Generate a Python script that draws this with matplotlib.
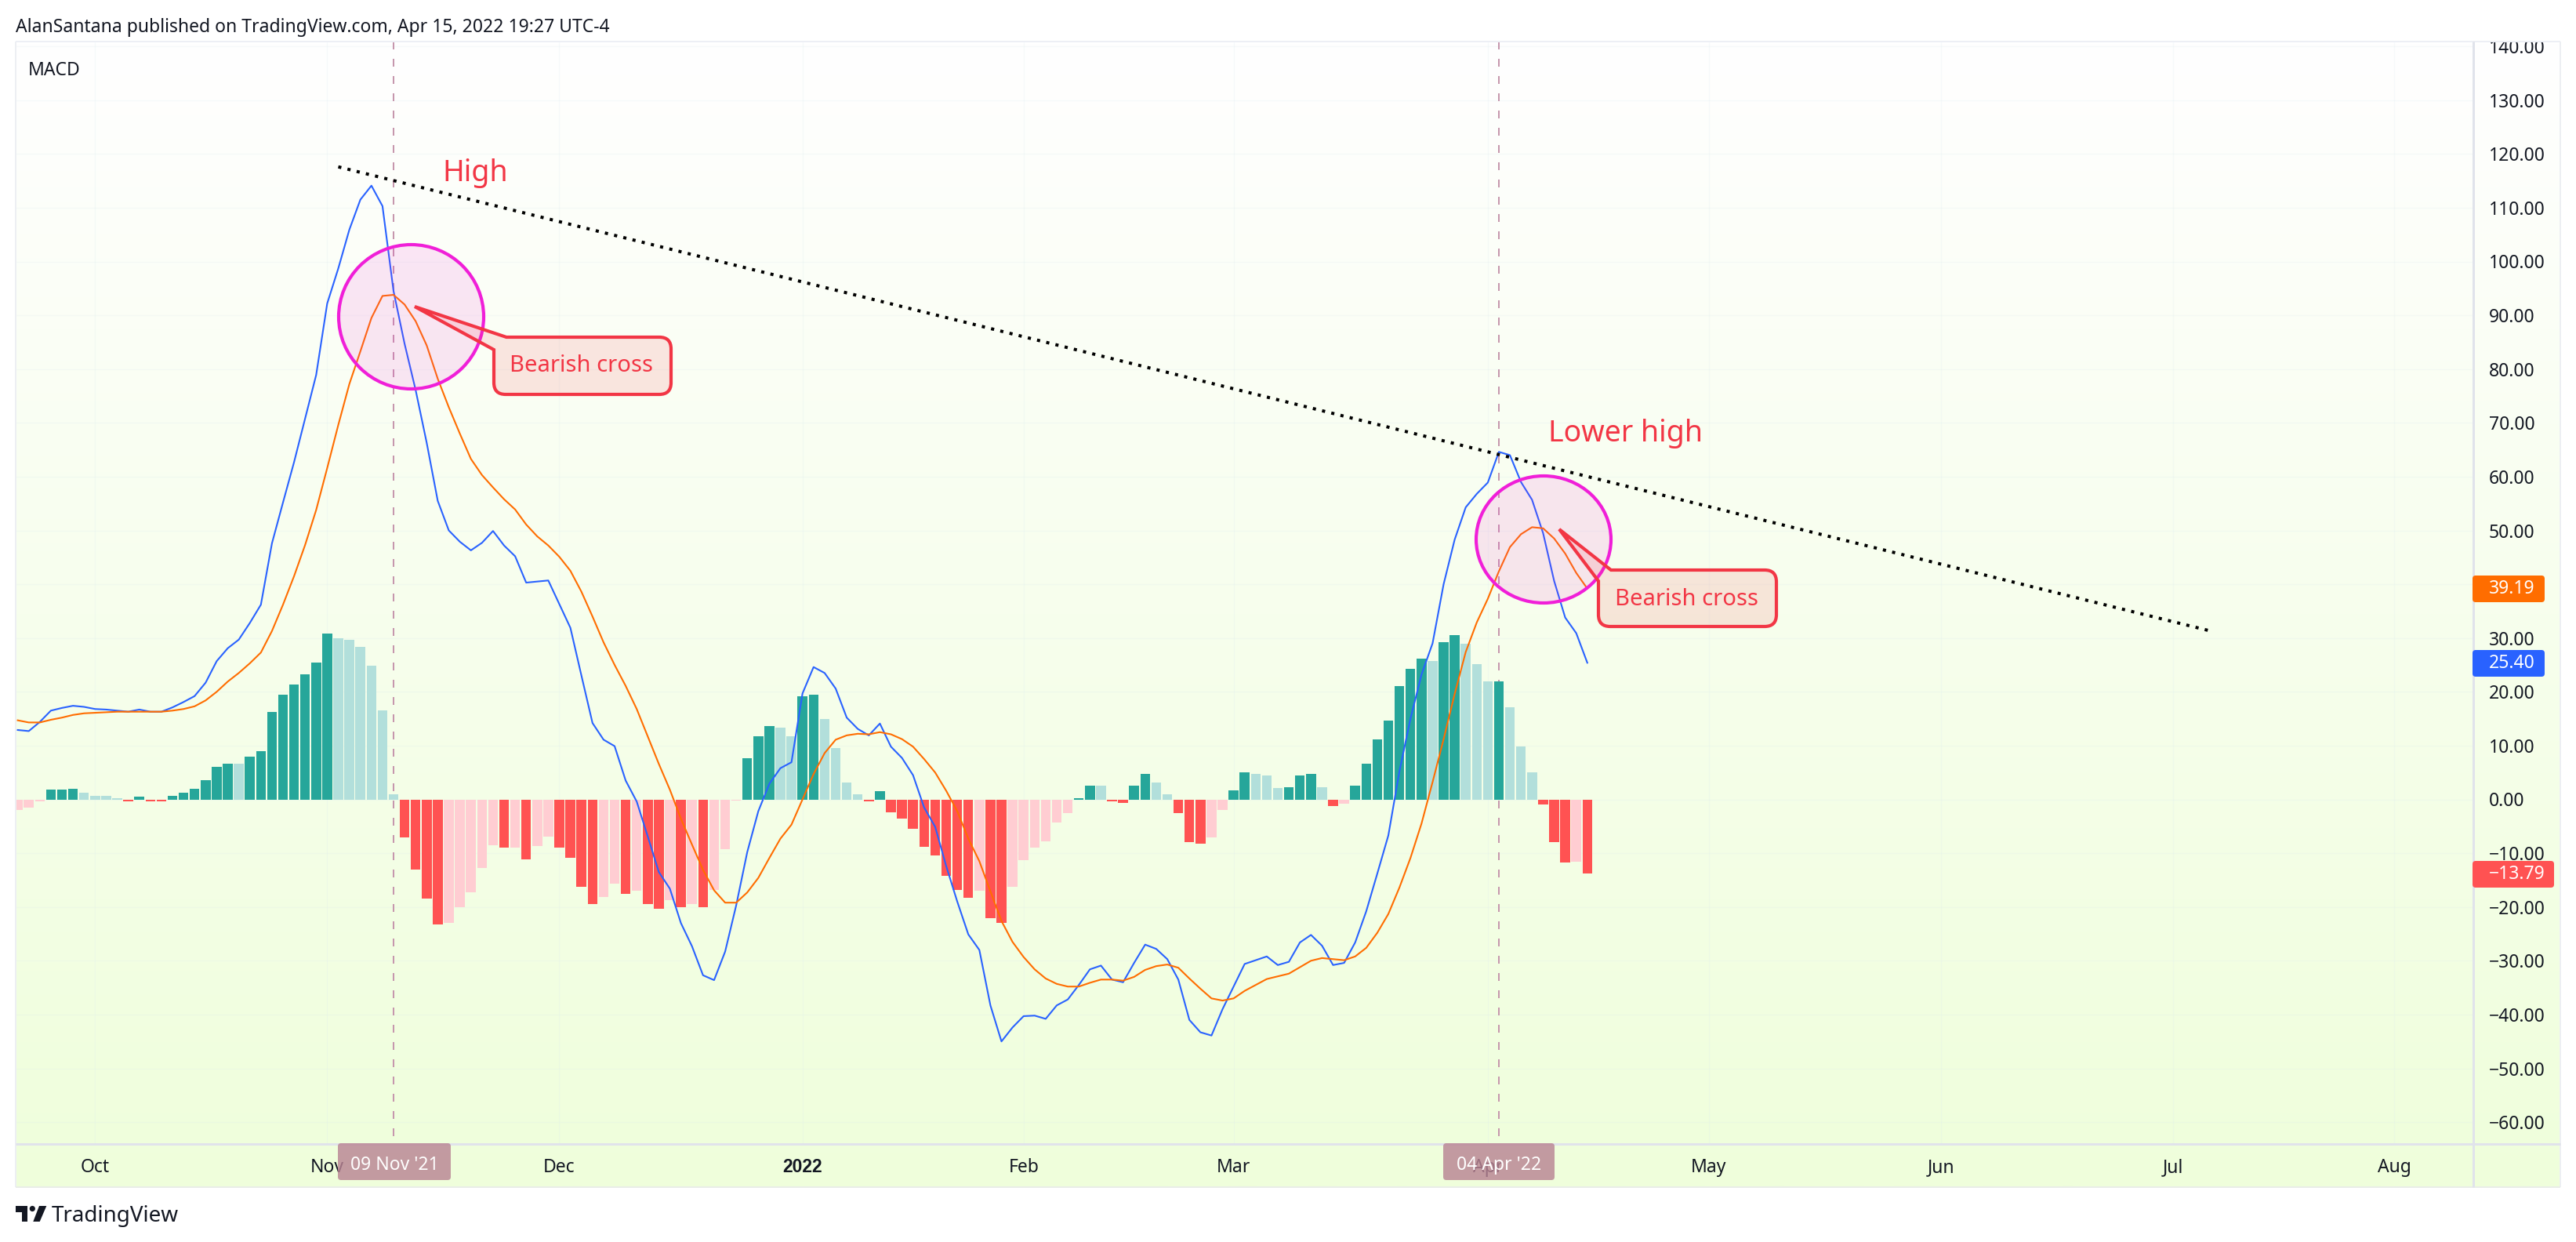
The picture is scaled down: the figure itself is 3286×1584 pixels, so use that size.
import matplotlib
matplotlib.use("Agg")
import numpy as np
import matplotlib.pyplot as plt
from matplotlib.path import Path
from matplotlib.patches import PathPatch, Ellipse, FancyBboxPatch, Polygon, Circle, Rectangle

plt.rcParams['font.family'] = ['Noto Sans', 'DejaVu Sans']

W, H = 3286, 1584

# values, one per daily bar
macd = [12.9, 12.7, 14.4, 16.5, 17.0, 17.4, 17.2, 16.8, 16.7, 16.5,
        16.3, 16.7, 16.3, 16.3, 17.1, 18.1, 19.2, 21.7, 25.7, 28.1,
        29.7, 32.8, 36.2, 47.6, 55.2, 62.7, 70.8, 78.9, 92.2, 98.7,
        105.9, 111.5, 114.1, 110.3, 94.5, 84.7, 76.1, 66.3, 55.5, 50.0,
        47.9, 46.3, 47.7, 49.9, 47.2, 45.2, 40.3, 40.5, 40.7, 36.3,
        31.9, 23.0, 14.2, 11.1, 9.9, 3.5, -0.4, -6.9, -13.5, -16.6,
        -23.0, -27.3, -32.7, -33.6, -28.3, -19.7, -9.8, -2.2, 2.9, 5.8,
        6.9, 19.7, 24.6, 23.5, 20.6, 15.2, 13.1, 11.9, 14.1, 9.8,
        7.7, 4.5, -1.5, -5.1, -12.4, -19.0, -25.1, -28.0, -38.3, -45.0,
        -42.4, -40.3, -40.2, -40.8, -38.3, -37.2, -34.5, -31.6, -30.9, -33.5,
        -34.0, -30.4, -27.0, -27.8, -29.7, -33.5, -41.0, -43.3, -43.9, -39.0,
        -34.8, -30.6, -29.9, -29.2, -30.8, -30.2, -26.6, -25.2, -27.2, -30.8,
        -30.4, -26.6, -20.8, -13.8, -6.7, 5.2, 15.0, 23.2, 29.0, 40.0,
        48.3, 54.3, 56.8, 58.9, 64.6, 64.0, 59.0, 55.7, 49.5, 40.6,
        33.8, 30.9, 25.4]
signal = [14.7, 14.3, 14.3, 14.8, 15.2, 15.7, 16.0, 16.1, 16.2, 16.3,
          16.3, 16.3, 16.3, 16.3, 16.5, 16.8, 17.3, 18.4, 20.0, 21.9,
          23.5, 25.3, 27.3, 31.3, 36.2, 41.5, 47.3, 53.8, 61.6, 69.6,
          77.2, 83.3, 89.5, 93.6, 93.8, 92.0, 88.9, 84.4, 78.2, 72.9,
          68.0, 63.3, 60.3, 58.0, 55.8, 53.9, 51.1, 48.9, 47.2, 45.1,
          42.5, 38.6, 34.0, 29.2, 25.0, 21.1, 16.8, 11.7, 6.6, 1.8,
          -3.6, -8.4, -13.1, -16.9, -19.2, -19.2, -17.3, -14.6, -10.9, -7.3,
          -4.7, 0.0, 4.7, 8.6, 11.1, 11.9, 12.2, 12.1, 12.5, 12.1,
          11.2, 9.8, 7.5, 5.0, 1.6, -2.2, -7.3, -11.5, -17.1, -22.6,
          -26.5, -29.3, -31.6, -33.3, -34.3, -34.8, -34.8, -34.1, -33.5, -33.5,
          -33.7, -33.0, -31.7, -31.0, -30.7, -31.3, -33.3, -35.2, -37.0, -37.4,
          -37.0, -35.6, -34.5, -33.4, -32.9, -32.4, -31.2, -30.0, -29.5, -29.7,
          -29.9, -29.2, -27.6, -24.8, -21.3, -16.4, -10.9, -4.5, 3.2, 11.2,
          19.6, 27.4, 32.9, 37.3, 42.4, 46.9, 49.3, 50.6, 50.4, 48.5,
          45.7, 42.1, 39.19]
hist = [-1.9, -1.6, -0.4, 1.75, 1.76, 1.9, 1.3, 0.7, 0.6, 0.2,
        -0.3, 0.5, -0.3, -0.35, 0.7, 1.3, 1.9, 3.6, 6.1, 6.7,
        6.65, 7.9, 9.0, 16.3, 19.4, 21.3, 23.3, 25.4, 30.9, 29.9,
        29.6, 28.3, 24.8, 16.6, 0.9, -7.1, -13.0, -18.5, -23.2, -22.9,
        -20.1, -17.3, -12.8, -8.5, -9.0, -8.9, -11.1, -8.7, -6.9, -8.9,
        -10.8, -16.2, -19.5, -18.2, -15.6, -17.5, -17.0, -19.4, -20.4, -18.8,
        -20.1, -19.5, -20.1, -16.8, -9.3, -0.2, 7.6, 11.8, 13.7, 13.4,
        11.7, 19.1, 19.5, 14.9, 9.6, 3.2, 1.0, -0.4, 1.6, -2.4,
        -3.6, -5.4, -8.8, -10.4, -14.2, -16.9, -18.3, -17.0, -22.1, -23.0,
        -16.2, -11.3, -8.9, -7.8, -4.3, -2.5, 0.2, 2.6, 2.55, -0.3,
        -0.7, 2.6, 4.8, 3.2, 1.0, -2.5, -8.0, -8.3, -7.1, -1.9,
        1.7, 5.1, 4.7, 4.4, 2.15, 2.2, 4.5, 4.8, 2.3, -1.3,
        -0.8, 2.6, 6.6, 11.2, 14.7, 21.0, 24.3, 26.2, 25.8, 29.3,
        30.5, 29.0, 25.2, 21.9, 22.0, 17.2, 9.9, 5.1, -0.9, -8.0,
        -11.7, -11.65, -13.79]

month_labels = ["Oct", "Nov", "Dec", "2022", "Feb", "Mar", "Apr", "May", "Jun", "Jul", "Aug"]
month_bars = [7, 28, 49, 71, 91, 110, 133, 153, 174, 195, 215]
price_ticks = list(range(-60, 150, 10))

cross_bars = [34, 134]
cross_labels = ["09 Nov '21", "04 Apr '22"]
trend_bars = [29.0, 198.4]
trend_vals = [117.6, 31.3]

TEXT = "#131722"
RED = "#F23645"
MAGENTA = "#F01FD8"


def px_x(p):
    return (p - 22.6) / 14.1


def px_y(p):
    return (1019.5 - p) / 6.86


fig = plt.figure(figsize=(W / 100, H / 100), dpi=100, facecolor="white")

# gradient behind the whole chart, price and time scales included
bg = fig.add_axes([20 / W, 1 - 1514 / H, (3266 - 20) / W, (1514 - 53) / H], zorder=0)
grad = np.linspace(0, 1, 256)[:, None, None] * (np.array([0xEF, 0xFE, 0xDB]) / 255 - 1) + 1
bg.imshow(grad, aspect="auto", interpolation="bilinear")
bg.axis("off")

ax = fig.add_axes([20 / W, 1 - 1459 / H, (3155 - 20) / W, (1459 - 53) / H], zorder=1)
ax.patch.set_alpha(0)
x = np.arange(len(hist))
h = np.array(hist)
prev = np.r_[h[0], h[:-1]]
colors = np.where(h >= 0, np.where(h >= prev, "#26A69A", "#B2DFDB"),
                  np.where(h < prev, "#FF5252", "#FFCDD2"))
ax.bar(x, hist, width=0.88, color=colors, zorder=2)
ax.plot(x, macd, color="#2962FF", lw=1.5, zorder=3)
ax.plot(x, signal, color="#FF6D00", lw=1.5, zorder=3)
ax.plot(trend_bars, trend_vals, color="black", lw=2.9, linestyle=(0, (1, 2)), zorder=4)
for b in cross_bars:
    ax.plot([b, b], [px_y(53), px_y(1450)], color="#C697AD", lw=1.44,
            linestyle=(0, (5, 6)), zorder=1.5)

ax.set_xlim(px_x(20), px_x(3155))
ax.set_ylim(px_y(1459), px_y(53))
ax.set_xticks(month_bars)
ax.set_xticklabels(month_labels)
ax.set_yticks(price_ticks)
ax.set_yticklabels([f"{v:.2f}".replace("-", "\u2212") for v in price_ticks])
ax.yaxis.tick_right()
ax.tick_params(axis="x", length=0, pad=13, labelsize=16.5, labelcolor=TEXT)
ax.tick_params(axis="y", length=0, pad=14.4, labelsize=16.5, labelcolor=TEXT)
year_label = ax.get_xticklabels()[3]
year_label.set_family("Liberation Sans")
year_label.set_fontweight("bold")
ax.grid(True, color="#DCEBF0", lw=1.0, alpha=0.22, zorder=0)
ax.set_axisbelow(True)
for s in ax.spines.values():
    s.set_visible(False)

# overlay in pixel coordinates for the drawings and scale labels
ov = fig.add_axes([0, 0, 1, 1], zorder=2)
ov.set_xlim(0, W)
ov.set_ylim(H, 0)
ov.axis("off")
ov.patch.set_alpha(0)

# hides the top of the clipped 140.00 label
ov.add_patch(Rectangle((3156, 0), 112, 52, fc="white", ec="none", zorder=1))

for xs, ys, c, lw in [([20, 3266], [53, 53], "#EDEFF5", 2),
                      ([20, 20], [53, 1514], "#EDEFF3", 2),
                      ([3266, 3266], [53, 1514], "#EDEFF3", 2),
                      ([20, 3266], [1514, 1514], "#E9EDE8", 2),
                      ([20, 3266], [1459, 1459], "#E0E3EB", 3),
                      ([3155, 3155], [53, 1514], "#E0E3EB", 3)]:
    ov.plot(xs, ys, color=c, lw=lw * 0.72, solid_capstyle="butt", zorder=2)


def callout(tip, top_x, left_y, box):
    l, t, r, b = box
    k = 15
    verts = [tip, (top_x, t), (r - k, t), (r, t), (r, t + k), (r, b - k), (r, b), (r - k, b),
             (l + k, b), (l, b), (l, b - k), (l, left_y), tip]
    codes = [Path.MOVETO, Path.LINETO, Path.LINETO, Path.CURVE3, Path.CURVE3, Path.LINETO,
             Path.CURVE3, Path.CURVE3, Path.LINETO, Path.CURVE3, Path.CURVE3, Path.LINETO,
             Path.CLOSEPOLY]
    ov.add_patch(PathPatch(Path(verts, codes), fc=(0.949, 0.212, 0.271, 0.12), ec=RED,
                           lw=3, joinstyle="miter", zorder=6))


ov.add_patch(Ellipse((524.5, 404), 185, 184, fc=(0.94, 0.12, 0.85, 0.11), ec=MAGENTA, lw=3, zorder=5))
ov.add_patch(Ellipse((1969, 688), 172, 162, fc=(0.94, 0.12, 0.85, 0.11), ec=MAGENTA, lw=3, zorder=5))
callout((529, 391), 646, 446, (630, 430, 856, 503))
callout((1989, 675), 2055, 741, (2039, 727, 2266, 799))
ov.text(742, 467, "Bearish cross", color=RED, fontsize=21, ha="center", va="center", zorder=7)
ov.text(2151, 764, "Bearish cross", color=RED, fontsize=21, ha="center", va="center", zorder=7)
ov.text(564, 221, "High", color=RED, fontsize=27, ha="left", va="center", zorder=7)
ov.text(1975, 553, "Lower high", color=RED, fontsize=27, ha="left", va="center", zorder=7)

ov.text(20, 35, "AlanSantana published on TradingView.com, Apr 15, 2022 19:27 UTC-4",
        color=TEXT, fontsize=16.5, ha="left", va="center", zorder=7)
ov.text(36, 90, "MACD", color=TEXT, fontsize=16.5, ha="left", va="center", zorder=7)

# crosshair date labels
for b, lab, (l, r) in zip(cross_bars, cross_labels, [(431, 575), (1841, 1983)]):
    ov.add_patch(FancyBboxPatch((l + 4, 1462), r - l - 8, 39, boxstyle="round,pad=4,rounding_size=4",
                                fc="#B98494", ec="none", alpha=0.82, zorder=5))
    ov.text((l + r) / 2, 1486, lab, color="white", fontsize=16.5, ha="center", va="center", zorder=7)

# last value labels on the price scale
for lab, col, t, b, r in [("39.19", "#FF6D00", 734, 768, 3246),
                          ("25.40", "#2962FF", 829, 863, 3246),
                          ("\u221213.79", "#FF5252", 1098, 1132, 3258)]:
    ov.add_patch(FancyBboxPatch((3158, t + 4), r - 3162, b - t - 8, boxstyle="round,pad=4,rounding_size=4",
                                fc=col, ec="none", zorder=5))
    ov.text(3175, (t + b) / 2, lab, color="white", fontsize=16.5, ha="left", va="center", zorder=7)

# TradingView logo
ov.add_patch(Polygon([(20, 1538), (35, 1538), (35, 1558), (27.5, 1558), (27.5, 1546), (20, 1546)],
                     fc=TEXT, ec="none"))
ov.add_patch(Circle((41.3, 1541.5), 3.6, fc=TEXT, ec="none"))
ov.add_patch(Polygon([(50, 1538), (59.3, 1538), (50.7, 1558), (42.3, 1558)], fc=TEXT, ec="none"))
ov.text(66, 1551, "TradingView", color=TEXT, fontsize=20, ha="left", va="center", zorder=7)

fig.savefig("out.png", dpi=100)
